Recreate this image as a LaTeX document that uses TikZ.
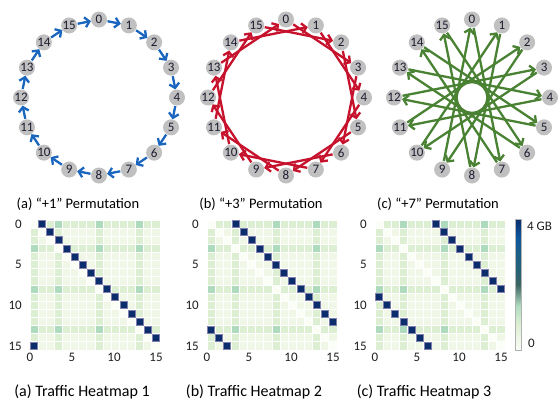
\documentclass[tikz,border=0pt]{standalone}
\usepackage{fontspec}
\setmainfont{Carlito}
\usetikzlibrary{arrows.meta}
\definecolor{permA}{RGB}{26,102,190}
\definecolor{permB}{RGB}{198,18,44}
\definecolor{permC}{RGB}{74,130,52}
\definecolor{dotgray}{RGB}{192,192,192}
\definecolor{dottext}{RGB}{28,28,48}
\definecolor{cell0}{RGB}{240,247,231}
\definecolor{cell1}{RGB}{220,239,211}
\definecolor{cell2}{RGB}{174,219,190}
\definecolor{cellW}{RGB}{251,253,247}
\definecolor{cellD}{RGB}{11,45,108}
\definecolor{cellB}{RGB}{128,128,172}
\pgfdeclareverticalshading{gnbu}{100bp}{color(0bp)=(cellW); color(25bp)=(cellW);
  color(35bp)=(cell1); color(42bp)=(cell2); color(50bp)=(rgb:red,120;green,200;blue,196);
  color(55bp)=(rgb:red,72;green,178;blue,212); color(61bp)=(rgb:red,42;green,138;blue,192);
  color(68bp)=(rgb:red,12;green,88;blue,160); color(75bp)=(cellD); color(100bp)=(cellD)}

\begin{document}
\begin{tikzpicture}[x=1pt,y=-1pt,
  dot/.style={circle,fill=dotgray,minimum size=16pt,inner sep=0pt,text=dottext,font=\fontsize{13}{13}\selectfont},
  perm/.style={-{Straight Barb[length=4.5pt,width=10pt]},line width=2.3pt,shorten <=0.5pt},
  tick/.style={text=black!88,font=\fontsize{13}{13}\selectfont,inner sep=0pt},
  capt/.style={font=\fontsize{14.5}{16}\selectfont,inner sep=0pt},
  captB/.style={font=\fontsize{16}{18}\selectfont,inner sep=0pt}]
\def\rad{78};
\def\cy{97.5};
\def\w{8.125};
\def\top{220};

\useasboundingbox (0,0) rectangle (558,408);
\fill[white] (0,0) rectangle (558,408);

% permutation rings
\foreach \p/\cx/\s/\col in {a/99/1/permA,b/286/3/permB,c/472/7/permC}{
  \foreach \k in {0,...,15}
    \node[dot] (\p\k) at ({\cx+\rad*cos(22.5*\k-90)},{\cy+\rad*sin(22.5*\k-90)}) {\k};
  \foreach \k in {0,...,15}{
    \pgfmathtruncatemacro\j{mod(\k+\s,16)}
    \draw[perm,draw=\col] (\p\k) -- (\p\j);
  }
}

\node[capt] (capA) at (78,204) {(a) “+1” Permutation};
\node[capt] (capB) at (261,204) {(b) “+3” Permutation};
\node[capt] (capC) at (438,204) {(c) “+7” Permutation};

% heatmaps
\foreach \m/\x/\s in {1/30/1,2/207/3,3/375/7}{
  \foreach \r in {0,...,15}{
    \foreach \c in {0,...,15}{
      \pgfmathtruncatemacro\lvl{((\r==0)||(\r==3)||(\r==8)||(\r==13))+((\c==0)||(\c==3)||(\c==8)||(\c==13))}
      \pgfmathtruncatemacro\hit{mod(\r+\s,16)==\c}
      \ifnum\hit=1
        \filldraw[fill=cellD,draw=cellB,line width=0.8pt] ({\x+\c*\w+0.6},{\top+\r*\w+0.6}) rectangle ++(\w-1.2,\w-1.2);
      \else
        \ifnum\r=\c \def\cc{cellW}\else \def\cc{cell\lvl}\fi
        \fill[\cc] ({\x+\c*\w+0.5},{\top+\r*\w+0.5}) rectangle ++(\w-1,\w-1);
      \fi
    }
  }
  \foreach \t in {0,5,10,15}{
    \node[tick,anchor=east] (h\m-r\t) at (\x-8,{\top+(\t+0.5)*\w}) {\t};
    \node[tick,anchor=north] (h\m-c\t) at ({\x+8.4*\t},353) {\t};
  }
}

% colour bar
\shade[shading=gnbu] (515.5,219) rectangle (521.5,350);
\draw[black!30,line width=0.8pt] (515.5,219) rectangle (521.5,350);
\node[tick,anchor=west] (cbTop) at (527,226) {4 GB};
\node[tick,anchor=west] (cbBot) at (528,343) {0};

\node[captB] (hcapA) at (82,392) {(a) Traffic Heatmap 1};
\node[captB] (hcapB) at (254,392) {(b) Traffic Heatmap 2};
\node[captB] (hcapC) at (424,392) {(c) Traffic Heatmap 3};
\end{tikzpicture}
\end{document}
